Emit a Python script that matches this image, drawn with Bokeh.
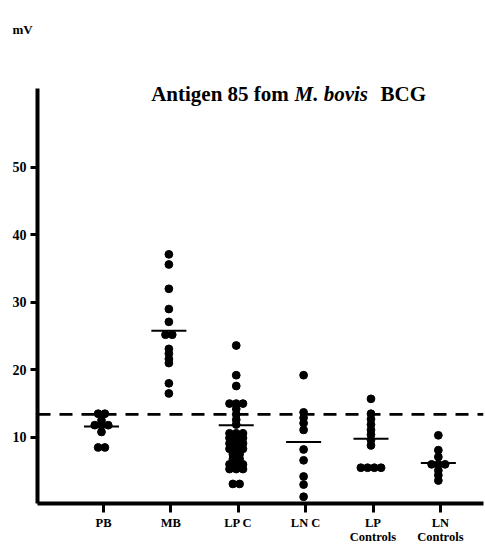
import numpy as np
import pandas as pd
from bokeh.plotting import figure
from bokeh.models import ColumnDataSource, FixedTicker, Span, Label, Title
from bokeh.embed import file_html
from bokeh.resources import INLINE

# ---- data ----
categories = ["PB", "MB", "LP C", "LN C", "LP\nControls", "LN\nControls"]
pb = [13.5, 13.5, 12.5, 11.8, 11.8, 11.8, 10.8, 8.5, 8.5]
mb = [37.1, 35.6, 32.0, 29.0, 27.1, 25.2, 25.2, 23.1, 22.4, 21.6, 21.0, 18.0, 16.5]
lp_c = [23.6, 19.2, 17.6, 15.0, 15.0, 15.0, 14.2, 13.4, 12.6, 11.9,
        10.6, 10.6, 10.6, 9.9, 9.9, 9.9, 9.1, 9.1, 9.1, 8.3, 8.3, 8.3,
        7.5, 7.5, 6.8, 6.8, 6.0, 6.0, 6.0, 5.3, 5.3, 5.3, 3.1, 3.1]
ln_c = [19.2, 13.7, 12.9, 12.1, 11.1, 8.2, 6.6, 4.2, 3.0, 1.2]
lp_controls = [15.7, 13.5, 12.7, 11.9, 11.1, 10.4, 9.6, 8.8, 5.5, 5.5, 5.5, 5.5]
ln_controls = [10.3, 8.1, 7.1, 6.0, 6.0, 6.0, 5.1, 4.4, 3.6]
means = [11.6, 25.8, 11.8, 9.3, 9.8, 6.2]
cutoff = 13.4
yticks = [10, 20, 30, 40, 50]

groups = [pb, mb, lp_c, ln_c, lp_controls, ln_controls]

# ---- layout constants ----
W, H = 485, 547
LEFT, RIGHT, TOP, BOTTOM = 37, 2, 40, 44
FW = W - LEFT - RIGHT
FH = H - TOP - BOTTOM
X0 = 0.02
X1 = X0 + FW / 67.37
Y0 = 0.2
Y1 = Y0 + FH / 6.752
STEP = 0.1  # horizontal offset for equal values (data units)


def dx(px):
    return X0 + (px - LEFT) * (X1 - X0) / FW


def dy(py):
    return Y0 + (TOP + FH - py) * (Y1 - Y0) / FH


rows = []
for i, vals in enumerate(groups):
    s = pd.Series(vals)
    rank = s.groupby(s).cumcount()
    n = s.groupby(s).transform("size")
    off = (rank - (n - 1) / 2) * STEP
    for v, o in zip(s, off):
        rows.append((i + 1 - 0.03 + o, v))
pts = pd.DataFrame(rows, columns=["x", "y"])

positions = np.arange(1, len(categories) + 1)
mean_src = ColumnDataSource(dict(x0=positions - 0.29, x1=positions + 0.23, y=means))

font = "Liberation Serif"

p = figure(width=W, height=H, x_range=(X0, X1), y_range=(Y0, Y1),
           output_backend="svg", toolbar_location=None,
           min_border_left=LEFT, min_border_right=RIGHT,
           min_border_top=TOP, min_border_bottom=BOTTOM)
p.title.visible = False
p.add_layout(Title(text="mV", align="left", offset=-25, standoff=8,
                   text_font=font, text_font_style="bold",
                   text_font_size="13px", text_color="black"), "above")
p.grid.visible = False
p.outline_line_color = None
p.background_fill_color = "white"
p.border_fill_color = "white"

p.scatter("x", "y", source=ColumnDataSource(pts), size=7.8,
          fill_color="black", line_color="black")
p.segment(x0="x0", x1="x1", y0="y", y1="y", source=mean_src,
          line_color="black", line_width=2)
p.add_layout(Span(location=cutoff, dimension="width", line_color="black",
                  line_width=2.7, line_dash="13 9"))

# y axis
ya = p.yaxis[0]
ya.ticker = FixedTicker(ticks=yticks)
ya.bounds = (Y0, dy(88))
ya.axis_line_width = 4
ya.axis_line_color = "black"
ya.major_tick_out = 7
ya.major_tick_in = 0
ya.major_tick_line_width = 3
ya.minor_tick_line_color = None
ya.major_label_text_font = font
ya.major_label_text_font_style = "bold"
ya.major_label_text_font_size = "14px"
ya.major_label_text_color = "black"
ya.major_label_standoff = 4

# x axis
xa = p.xaxis[0]
xa.ticker = FixedTicker(ticks=list(positions))
xa.major_label_overrides = {int(k): c for k, c in zip(positions, categories)}
xa.axis_line_width = 4
xa.axis_line_color = "black"
xa.major_tick_out = 9
xa.major_tick_in = 0
xa.major_tick_line_width = 3
xa.minor_tick_line_color = None
xa.major_label_text_font = font
xa.major_label_text_font_style = "bold"
xa.major_label_text_font_size = "12.5px"
xa.major_label_text_line_height = 1.05
xa.major_label_text_color = "black"
xa.major_label_standoff = 3

# title made of three runs (the species name is italic)
title_parts = [("Antigen 85 fom", "bold", 150.7),
               ("M. bovis", "bold italic", 294),
               ("BCG", "bold", 380)]
for t, st, px in title_parts:
    p.add_layout(Label(x=dx(px), y=dy(93.3), text=t, text_font=font,
                       text_font_style=st, text_font_size="21px",
                       text_color="black", text_baseline="alphabetic"))

open("out.html", "w").write(file_html(p, INLINE))
